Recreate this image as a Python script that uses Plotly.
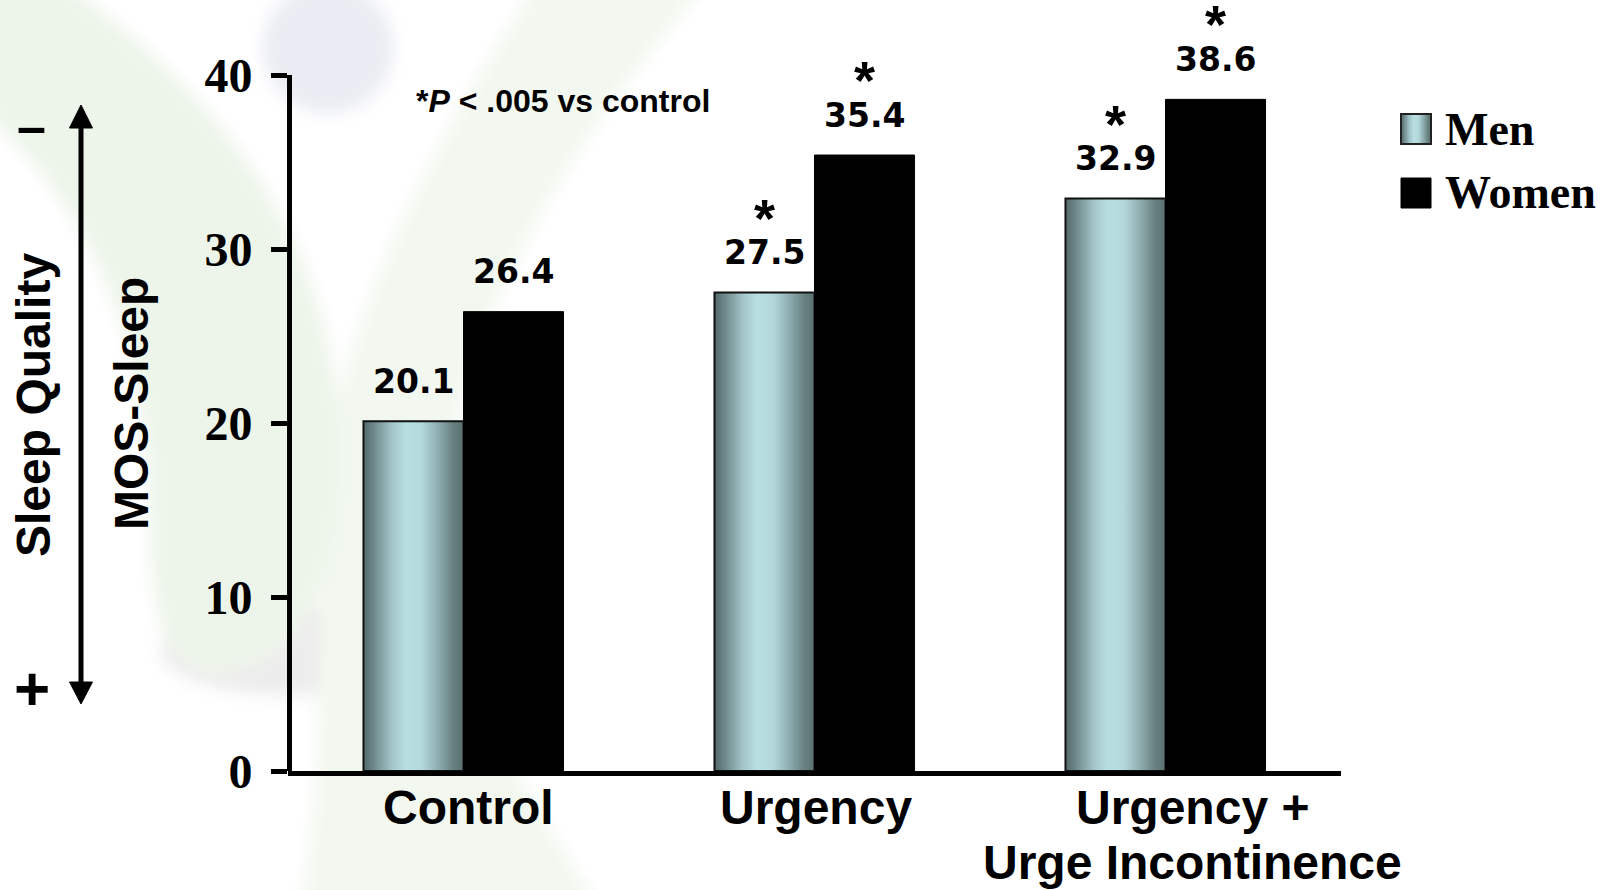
import base64
import plotly.graph_objects as go

# ---- data -------------------------------------------------------------
categories = ["Control", "Urgency", "Urgency +<br>Urge Incontinence"]
men = [20.1, 27.5, 32.9]
women = [26.4, 35.4, 38.6]
men_sig = [False, True, True]
women_sig = [False, True, True]
y_ticks = [0, 10, 20, 30, 40]
series_names = ["Men", "Women"]

# ---- geometry ----------------------------------------------------------
W, H = 1609, 890
L, R, T, B = 288, 268, 75, 119
PW, PH = W - L - R, H - T - B
BAR_W = 0.285                 # bar width in category units
CAT_XSHIFT = [5, 1, 27]       # category label nudges (px)
CAT_LINE = 55                 # line pitch of wrapped category labels (px)


def px(x):
    return (x - L) / PW


def py(y):
    return 1 - (y - T) / PH


def svg_uri(svg):
    return "data:image/svg+xml;base64," + base64.b64encode(svg.encode()).decode()


# metallic teal gradient used to fill the "Men" bars
stops = [(0.00, "#53686a"), (0.10, "#6c8789"), (0.28, "#a2c4c8"), (0.42, "#b8dee2"),
         (0.58, "#b4d9dd"), (0.74, "#90afb2"), (0.90, "#67807f"), (1.00, "#5b7173")]
stop_xml = "".join(f'<stop offset="{o}" stop-color="{c}"/>' for o, c in stops)
grad_svg = ('<svg xmlns="http://www.w3.org/2000/svg" width="100" height="100" '
            'viewBox="0 0 100 100" preserveAspectRatio="none">'
            '<defs><linearGradient id="g" x1="0" y1="0" x2="1" y2="0">' + stop_xml +
            '</linearGradient></defs><rect width="100" height="100" fill="url(#g)"/></svg>')
GRAD = svg_uri(grad_svg)

# faint logo watermark behind the slide
wm_svg = (
    f'<svg xmlns="http://www.w3.org/2000/svg" width="{W}" height="{H}" viewBox="0 0 {W} {H}">'
    '<defs><filter id="b" filterUnits="userSpaceOnUse" x="-100" y="-100" width="1000" height="1100">'
    '<feGaussianBlur stdDeviation="8"/></filter></defs>'
    '<g filter="url(#b)">'
    '<ellipse cx="290" cy="650" rx="130" ry="45" fill="#ececec"/>'
    '<path d="M 540,-20 L 710,-20 C 570,140 460,320 445,500 C 435,650 520,780 600,910 '
    'L 300,910 C 330,760 310,600 330,450 C 350,300 440,130 540,-20 Z" fill="#f2f8ef"/>'
    '<path d="M 60,-20 C 200,80 330,220 340,430 C 345,560 310,660 230,672 '
    'C 165,680 150,620 150,520 C 150,380 110,220 -20,110 L -20,-20 Z" fill="#edf5ea"/>'
    '<circle cx="328" cy="48" r="65" fill="#eaecf3"/>'
    '</g></svg>')
WM = svg_uri(wm_svg)

fig = go.Figure()

# Men bars: transparent body with outline, gradient image underneath
fig.add_trace(go.Bar(
    x=categories, y=men, name=series_names[0], width=BAR_W, offset=-BAR_W,
    marker=dict(color="rgba(0,0,0,0)", line=dict(color="#111111", width=2)),
))
# Women bars: solid black
fig.add_trace(go.Bar(
    x=categories, y=women, name=series_names[1], width=BAR_W, offset=0,
    marker=dict(color="#000000", line=dict(color="#000000", width=1)),
))

images = [dict(source=WM, xref="paper", yref="paper", x=px(0), y=py(0),
               sizex=W / PW, sizey=H / PH, xanchor="left", yanchor="top",
               sizing="stretch", layer="below")]
for i, v in enumerate(men):
    images.append(dict(source=GRAD, xref="x", yref="y", x=i - BAR_W, y=v,
                       sizex=BAR_W, sizey=v, xanchor="left", yanchor="top",
                       sizing="stretch", layer="below"))

annotations = []
VAL_FONT = dict(family="DejaVu Sans", size=33, color="black", weight="bold")
STAR_FONT = dict(family="Liberation Sans, Arial", size=54, color="black", weight="bold")
for vals, sig, off in ((men, men_sig, -BAR_W / 2), (women, women_sig, BAR_W / 2)):
    for i, v in enumerate(vals):
        annotations.append(dict(x=i + off, y=v, xref="x", yref="y", text=f"{v:.1f}",
                                showarrow=False, xanchor="center", yanchor="middle",
                                yshift=40, font=VAL_FONT))
        if sig[i]:
            annotations.append(dict(x=i + off, y=v, xref="x", yref="y", text="*",
                                    showarrow=False, xanchor="center", yanchor="middle",
                                    yshift=75, font=STAR_FONT))

ARIAL_B = dict(family="Liberation Sans, Arial", size=48, color="black", weight="bold")
for i, c in enumerate(categories):
    for k, line in enumerate(c.split("<br>")):
        annotations.append(dict(x=i, y=0, xref="x", yref="y", text=line, showarrow=False,
                                xanchor="center", yanchor="top",
                                yshift=-8 - k * CAT_LINE, xshift=CAT_XSHIFT[i],
                                font=ARIAL_B))


def note(x, y, text, font, **kw):
    d = dict(x=px(x), y=py(y), xref="paper", yref="paper", text=text, showarrow=False,
             xanchor="center", yanchor="middle", font=font)
    d.update(kw)
    return d


annotations += [
    note(563, 101, "*<i>P</i> &lt; .005 vs control",
         dict(family="Liberation Sans, Arial", size=32, color="black", weight="bold")),
    note(132, 404, "MOS-Sleep", ARIAL_B, textangle=-90),
    note(33, 405, "Sleep Quality", ARIAL_B, textangle=-90),
    note(31, 126, "–", dict(family="Liberation Sans, Arial", size=52, color="black",
                            weight="bold")),
    note(32, 688, "+", dict(family="Liberation Sans, Arial", size=62, color="black",
                            weight="bold")),
]

LEG_FONT = dict(family="Liberation Serif, Times New Roman", size=46, color="black",
                weight="bold")
annotations += [
    note(1443, 129, series_names[0], LEG_FONT, xanchor="left"),
    note(1443, 192, series_names[1], LEG_FONT, xanchor="left"),
]

# legend swatches
images.append(dict(source=GRAD, xref="paper", yref="paper", x=px(1401), y=py(114),
                   sizex=30 / PW, sizey=30 / PH, xanchor="left", yanchor="top",
                   sizing="stretch", layer="above"))
shapes = [
    dict(type="rect", xref="paper", yref="paper", x0=px(1401), x1=px(1431),
         y0=py(114), y1=py(144), line=dict(color="#222", width=2), layer="above"),
    dict(type="rect", xref="paper", yref="paper", x0=px(1401), x1=px(1431),
         y0=py(178), y1=py(208), fillcolor="black", line=dict(color="black", width=1)),
]

# double-headed "sleep quality" arrow
AX = 81
shapes += [
    dict(type="line", xref="paper", yref="paper", x0=px(AX), x1=px(AX),
         y0=py(120), y1=py(690), line=dict(color="black", width=5)),
    dict(type="path", xref="paper", yref="paper", fillcolor="black",
         line=dict(color="black", width=1),
         path=f"M {px(AX)},{py(105)} L {px(AX - 11.5)},{py(128)} L {px(AX + 11.5)},{py(128)} Z"),
    dict(type="path", xref="paper", yref="paper", fillcolor="black",
         line=dict(color="black", width=1),
         path=f"M {px(AX)},{py(704)} L {px(AX - 11.5)},{py(682)} L {px(AX + 11.5)},{py(682)} Z"),
]

fig.update_layout(
    width=W, height=H, margin=dict(l=L, r=R, t=T, b=B, pad=0),
    paper_bgcolor="white", plot_bgcolor="rgba(0,0,0,0)",
    barmode="overlay", showlegend=False,
    images=images, annotations=annotations, shapes=shapes,
    xaxis=dict(type="category", range=[-0.5, 2.5], showline=True, linecolor="black",
               linewidth=5, showticklabels=False, ticks="", showgrid=False,
               zeroline=False, fixedrange=True),
    yaxis=dict(range=[0, 40], tickvals=y_ticks, showline=True, linecolor="black",
               linewidth=5, ticks="outside", ticklen=16, tickwidth=5, tickcolor="black",
               showgrid=False, zeroline=False, ticklabelstandoff=9,
               anchor="free", position=0, shift=1,
               tickfont=dict(family="Liberation Serif, Times New Roman", size=48,
                             color="black", weight="bold"),
               fixedrange=True),
)

fig.write_html("out.html")
